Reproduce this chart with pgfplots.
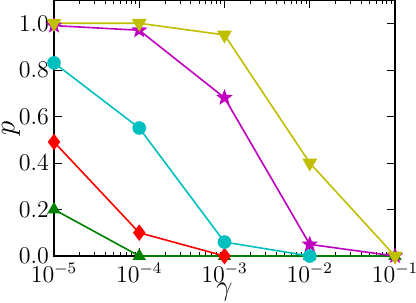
\documentclass[border=0pt]{standalone}
\usepackage{pgfplots}
\pgfplotsset{compat=1.18}
\definecolor{mg}{rgb}{0,0.5,0}
\definecolor{mc}{rgb}{0,0.75,0.75}
\definecolor{mm}{rgb}{0.75,0,0.75}
\definecolor{my}{rgb}{0.75,0.75,0}
\pgfdeclareplotmark{fstar}{%
  \pgfpathmoveto{\pgfpointpolar{90}{\pgfplotmarksize}}%
  \pgfpathlineto{\pgfpointpolar{126}{0.42\pgfplotmarksize}}%
  \pgfpathlineto{\pgfpointpolar{162}{\pgfplotmarksize}}%
  \pgfpathlineto{\pgfpointpolar{198}{0.42\pgfplotmarksize}}%
  \pgfpathlineto{\pgfpointpolar{234}{\pgfplotmarksize}}%
  \pgfpathlineto{\pgfpointpolar{270}{0.42\pgfplotmarksize}}%
  \pgfpathlineto{\pgfpointpolar{306}{\pgfplotmarksize}}%
  \pgfpathlineto{\pgfpointpolar{342}{0.42\pgfplotmarksize}}%
  \pgfpathlineto{\pgfpointpolar{18}{\pgfplotmarksize}}%
  \pgfpathlineto{\pgfpointpolar{54}{0.42\pgfplotmarksize}}%
  \pgfpathclose
  \pgfusepathqfillstroke}
\begin{document}
\begin{tikzpicture}
\begin{axis}[
  name=ax,
  xmode=log, scale only axis,
  width=170.5pt, height=128pt,
  xmin=1e-5, xmax=1e-1, ymin=0, ymax=1.1,
  ytick={0,0.2,0.4,0.6,0.8,1.0},
  yticklabel style={/pgf/number format/fixed,/pgf/number format/fixed zerofill,/pgf/number format/precision=1, xshift=1pt},
  tick label style={font=\large},
  xlabel={$\gamma$}, ylabel={$p$},
  xlabel style={font=\Large, at={(axis description cs:0.5,0)}, anchor=base, yshift=-19.5pt},
  ylabel style={font=\Large, at={(axis description cs:0,0.5)}, anchor=center, yshift=21.5pt},
  tick align=inside, major tick length=4pt, minor tick length=2pt,
  every tick/.style={black, line width=0.3pt},
  axis line style={line width=0.6pt},
  every axis plot/.append style={line width=0.8pt},
  mark options={draw=black!80, line width=0.25pt},
]
\addplot[mg, mark=triangle*, mark size=3pt, mark options={fill=mg}] coordinates {(1e-5,0.2) (1e-4,0) (1e-3,0) (1e-2,0) (1e-1,0)};
\addplot[red, mark=diamond*, mark size=3.5pt, mark options={fill=red}] coordinates {(1e-5,0.49) (1e-4,0.10) (1e-3,0)};
\addplot[mc, mark=*, mark size=3pt, mark options={fill=mc}] coordinates {(1e-5,0.83) (1e-4,0.55) (1e-3,0.06) (1e-2,0)};
\addplot[mm, mark=fstar, mark size=3.2pt, mark options={fill=mm}] coordinates {(1e-5,0.99) (1e-4,0.97) (1e-3,0.68) (1e-2,0.05) (1e-1,0)};
\addplot[my, mark=triangle*, mark size=3.5pt, mark options={fill=my, rotate=180}] coordinates {(1e-5,1.0) (1e-4,1.0) (1e-3,0.95) (1e-2,0.40) (1e-1,0)};
\end{axis}
\pgfresetboundingbox
\useasboundingbox ([xshift=-27pt,yshift=-23pt]ax.south west) rectangle ([xshift=10.5pt]ax.north east);
\end{tikzpicture}
\end{document}
